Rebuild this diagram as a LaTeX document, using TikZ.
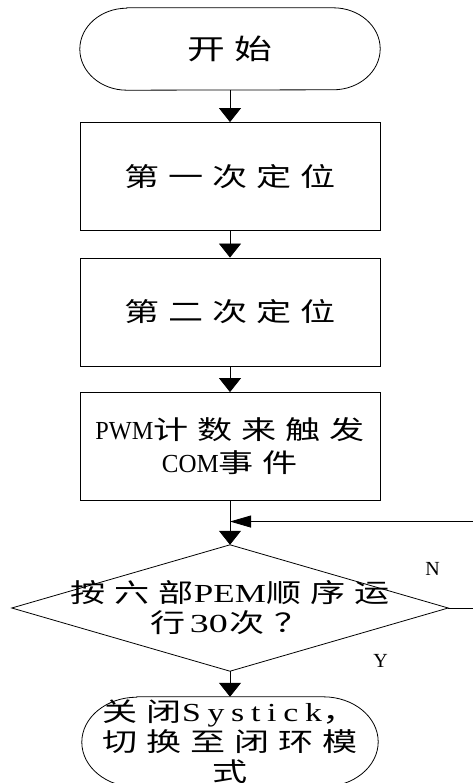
\documentclass[tikz,border=0pt]{standalone}
\usepackage{fontspec}
\usepackage{graphicx}
\usetikzlibrary{arrows.meta,calc}
\setmainfont{Liberation Serif}
\newfontfamily\cjkf[LetterSpace=25.4]{Noto Sans CJK SC}
\newfontfamily\sysf[LetterSpace=20]{Liberation Serif}
\newcommand\zh[1]{\scalebox{1.35}[1]{\fontsize{26}{30}\cjkf #1}}
\newcommand\zhbig[1]{\scalebox{1.35}[1]{\fontsize{28}{30}\cjkf #1}}
\newcommand\wline[2]{\resizebox{#1pt}{\height}{#2}}
\tikzset{
  txt/.style={inner sep=0pt, align=center, font=\fontsize{26}{30}\selectfont},
  boxnode/.style={txt, draw, line width=0.8pt, minimum width=300pt, minimum height=108pt},
  termnode/.style={txt, minimum width=300pt, minimum height=82pt},
  shapeline/.style={line width=0.8pt},
  flow/.style={line width=0.8pt, -{Triangle[width=22pt,length=14pt]}},
  backflow/.style={line width=0.8pt, -{Triangle[width=12pt,length=21pt]}},
  lab/.style={inner sep=0pt, font=\fontsize{20}{20}\selectfont}
}
\begin{document}
\begin{tikzpicture}[x=1pt,y=1pt]
\useasboundingbox (0,0) rectangle (473,-783);
\clip (0,0) rectangle (473,-783);
% start
\node[termnode] (start) at (230,-49) {\zhbig{开始}};
\draw[shapeline] ([xshift=47pt]start.north west) -- ([xshift=-47pt]start.north east)
  arc[start angle=90,end angle=-90,x radius=47,y radius=41]
  -- ([xshift=47pt]start.south west)
  arc[start angle=270,end angle=90,x radius=47,y radius=41] -- cycle;
% boxes
\node[boxnode] (b1) at (230,-176.5) {\zh{第一次定位}};
\node[boxnode] (b2) at (230,-312) {\zh{第二次定位}};
\node[boxnode, font=\fontsize{26}{33}\selectfont] (b3) at (230,-446.5)
  {\wline{58}{PWM}\zh{计数来触发}\\\wline{57}{COM}\zh{事件}};
% decision
\node[txt, minimum width=436pt, minimum height=126pt] (dia) at (230,-608)
  {\zh{按六部}\wline{72}{PEM}\zh{顺序运}\\\zh{行}\hspace{4pt}\wline{38}{30}\hspace{2pt}\zh{次？}};
\draw[shapeline] (dia.north) -- (dia.east) -- (dia.south) -- (dia.west) -- cycle;
% end
\node[termnode, minimum width=296pt, minimum height=90pt] (end) at (230,-742)
  {\zh{关闭}\wline{140}{\sysf Systick}\zh{，}\\\zh{切换至闭环模}\\\zh{式}};
\draw[shapeline] ([xshift=55pt]end.north west) -- ([xshift=-55pt]end.north east)
  arc[start angle=90,end angle=-90,x radius=55,y radius=45]
  -- ([xshift=55pt]end.south west)
  arc[start angle=270,end angle=90,x radius=55,y radius=45] -- cycle;
% connectors
\draw[flow] (start) -- (b1);
\draw[flow] (b1) -- (b2);
\draw[flow] (b2) -- (b3);
\draw[flow] (b3) -- (dia);
\draw[flow] (dia) -- (end);
\coordinate (join) at ($(b3.south)!0.47!(dia.north)$);
\draw[backflow] (dia.east) -- ++(45pt,0) |- (join);
% labels
\node[lab] (N) at (432.5,-568.5) {N};
\node[lab] (Y) at (380.5,-661) {Y};
\end{tikzpicture}
\end{document}
